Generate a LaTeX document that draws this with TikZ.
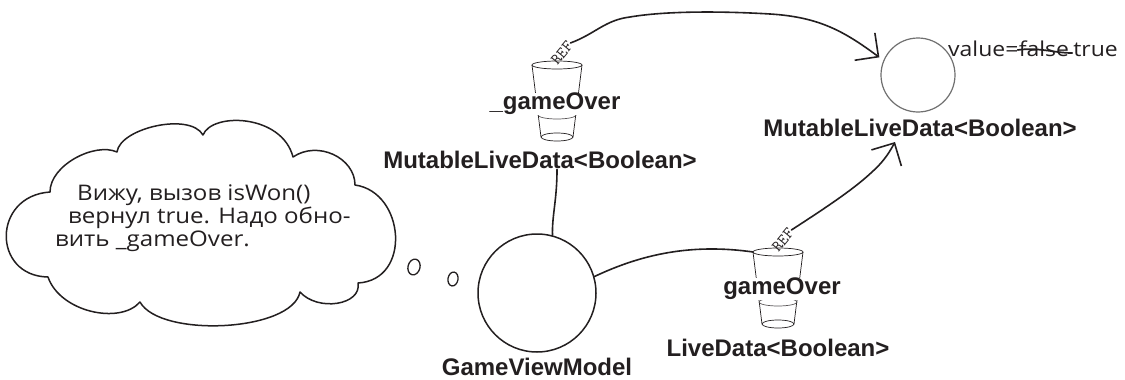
\documentclass[tikz,border=0pt]{standalone}
\usepackage{fontspec}
\setmainfont{Liberation Sans}
\newfontfamily\handfont[FakeStretch=1.12]{Open Sans}
\usetikzlibrary{arrows.meta,calc}
\definecolor{ink}{HTML}{231F20}
\definecolor{rimgray}{HTML}{707070}
\begin{document}
\begin{tikzpicture}[x=1pt,y=-1pt,
  lbl/.style={font=\bfseries\fontsize{24}{26}\selectfont, text=ink, inner sep=0.5pt},
  hand/.style={font=\handfont\fontsize{21.5}{24}\selectfont, text=ink, inner sep=0pt},
  conn/.style={draw=ink, line width=1.6pt, line cap=round, line join=round},
  barb/.style={-{Straight Barb[length=17pt,width=34pt,line width=1.6pt]}},
  reftag/.style={font=\ttfamily\fontsize{16}{16}\selectfont, text=ink, rotate=50, inner sep=0.5pt},
  cupline/.style={draw=ink, line width=0.7pt},
  cloudline/.style={draw=ink, line width=1.5pt, line join=round},
  tumbler/.pic={
    \draw[cupline] (0,0) ellipse[x radius=25pt, y radius=4pt];
    \draw[cupline] (-25,0) -- (-16,72);
    \draw[cupline] (25,0) -- (16,72);
    \draw[cupline, draw=ink!75] (0,50) ellipse[x radius=19pt, y radius=4pt];
    \draw[cupline] (0,72) ellipse[x radius=16pt, y radius=4pt];
    \coordinate (-rimw) at (-25,0);
    \node[reftag] (-ref) at (5,-12) {REF};
  }
]
\fill[white] (0,0) rectangle (1125,380);
\useasboundingbox (0,0) rectangle (1125,380);

% thought cloud
\draw[cloudline] (50,192) .. controls (50,165) and (95,142) .. (117,152)
  .. controls (120,128) and (190,112) .. (203,135)
  .. controls (212,112) and (282,114) .. (293,157)
  .. controls (318,140) and (355,158) .. (355,185)
  .. controls (405,192) and (412,280) .. (358,283)
  .. controls (362,305) and (318,312) .. (300,292)
  .. controls (292,332) and (160,338) .. (140,302)
  .. controls (120,325) and (60,312) .. (48,277)
  .. controls (-8,276) and (-8,196) .. (50,192) -- cycle;
\draw[cloudline, line width=1.3pt, rotate around={-15:(414,267)}] (414,267) ellipse[x radius=6pt, y radius=8pt];
\draw[cloudline, line width=1.3pt, rotate around={-10:(453,279)}] (453,279) ellipse[x radius=5pt, y radius=7pt];

\node[hand, anchor=base west] (t1) at (77,200) {Вижу, вызов isWon()};
\node[hand, anchor=base west] (t2) at (68,223) {вернул true. Надо обно-};
\node[hand, anchor=base west] (t3) at (55,246) {вить \_gameOver.};

% objects
\node[circle, draw=ink, line width=1.5pt, minimum size=118pt] (gvm) at (537,293) {};
\node[lbl] (gvmlbl) at (537,367) {GameViewModel};

\node[circle, draw=rimgray, line width=1.2pt, minimum size=74pt] (mld) at (918,75) {};
\node[lbl] (mldlbl) at (920,128) {MutableLiveData<Boolean>};

\node[hand, font=\handfont\fontsize{20.5}{24}\selectfont, anchor=base west] (valkey) at (948,56) {value=};
\node[hand, font=\handfont\fontsize{20.5}{24}\selectfont, anchor=base west] (valold) at (valkey.base east) {false};
\node[hand, font=\handfont\fontsize{20.5}{24}\selectfont, anchor=base west] (valnew) at ([xshift=4pt]valold.base east) {true};
\draw[conn, line width=1.7pt] ($(valold.base west)+(-1,-6)$)
  .. controls ($(valold.base west)+(20,-9)$) and ($(valold.base east)+(-15,-3)$)
  .. ($(valold.base east)+(3,-3)$);

% references
\pic (cupA) at (557,65) {tumbler};
\node[lbl, fill=white] (goText) at (555,104) {\_gameOver};
\node[lbl] (goType) at (540,160) {MutableLiveData<Boolean>};

\pic (cupB) at (778,252) {tumbler};
\node[lbl, fill=white] (gText) at (782,289) {gameOver};
\node[lbl] (gType) at (778,348) {LiveData<Boolean>};

\coordinate (tipB) at ($(mldlbl.center)+(-25,14)$);

% connectors
\draw[conn, barb, shorten >=5pt] (cupA-ref.east)
  .. controls (595,34) and (605,20) .. (630,17)
  .. controls (665,11) and (720,11) .. (770,14)
  .. controls (820,17) and (845,32) .. (mld.157);
\draw[conn, barb] (cupB-ref.east)
  .. controls (830,205) and (855,188) .. (872,172)
  .. controls (882,163) and (888,155) .. (tipB);
\draw[conn] ([xshift=17pt]goType.south) .. controls (557,200) and (552,215) .. (gvm.75);
\draw[conn] (gvm.16) .. controls (640,255) and (690,243) .. (cupB-rimw);
\end{tikzpicture}
\end{document}
